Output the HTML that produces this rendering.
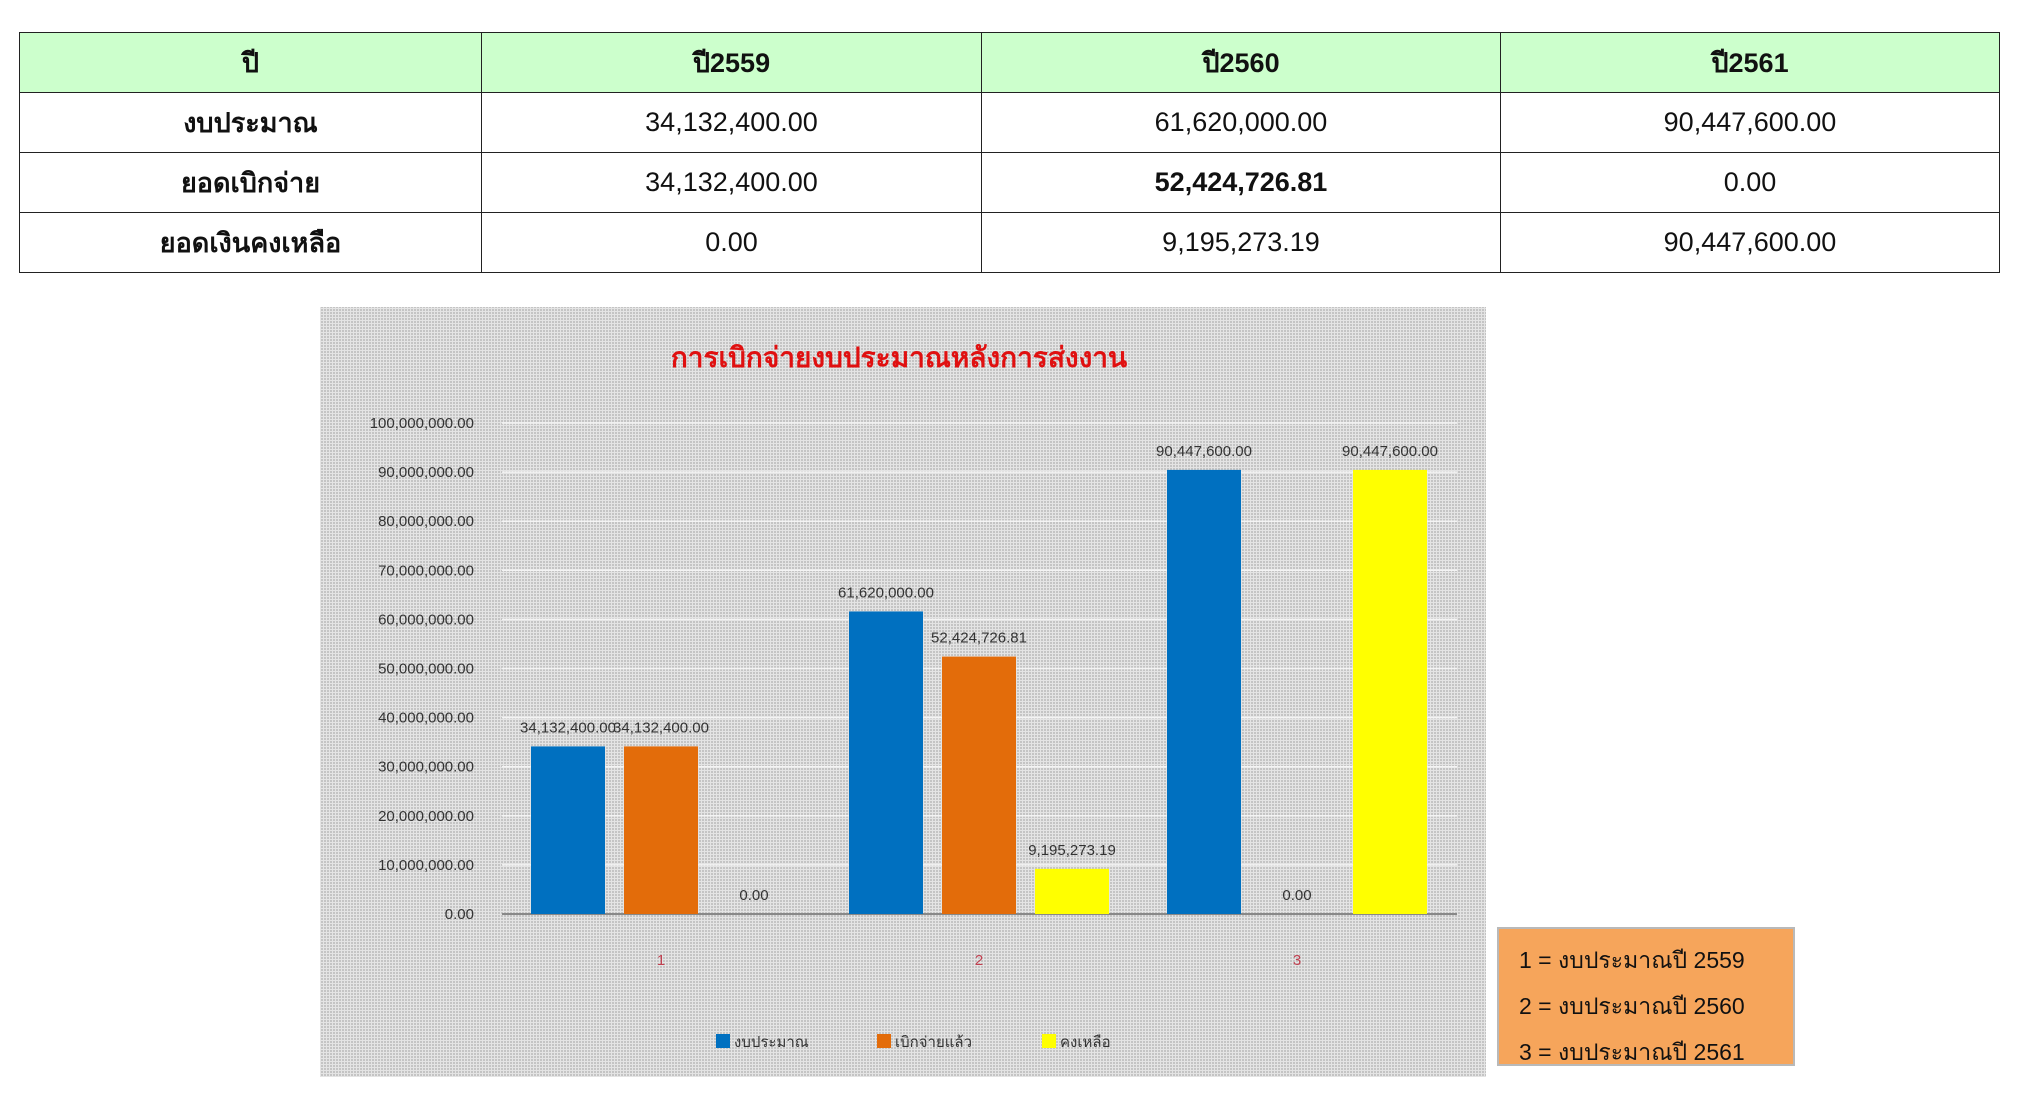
<!DOCTYPE html>
<html><head><meta charset="utf-8"><style>
body{margin:0;width:2019px;height:1114px;background:#fff;position:relative;overflow:hidden;font-family:"Liberation Sans","Noto Sans CJK SC",sans-serif}
table{position:absolute;left:19px;top:32px;width:1980px;border-collapse:collapse;table-layout:fixed}
td{border:1.5px solid #222;height:59px;text-align:center;font-size:27px;padding:0;color:#111}
tr.h td{background:#ccffcc;font-weight:bold}
td.l{font-weight:bold}
#legendbox{position:absolute;left:1497px;top:927px;width:298px;height:139px;background:#f6a55b;border:2px solid #b9b9b9;box-sizing:border-box;font-size:23px;color:#111}
#legendbox div{position:absolute;left:20px}
</style></head><body>
<table>
<colgroup><col style="width:462px"><col style="width:500px"><col style="width:519px"><col style="width:499px"></colgroup>
<tr class="h"><td>ปี</td><td>ปี2559</td><td>ปี2560</td><td>ปี2561</td></tr>
<tr><td class="l">งบประมาณ</td><td>34,132,400.00</td><td>61,620,000.00</td><td>90,447,600.00</td></tr>
<tr><td class="l">ยอดเบิกจ่าย</td><td>34,132,400.00</td><td style="font-weight:bold">52,424,726.81</td><td>0.00</td></tr>
<tr><td class="l">ยอดเงินคงเหลือ</td><td>0.00</td><td>9,195,273.19</td><td>90,447,600.00</td></tr>
</table>
<svg id="chart" style="position:absolute;left:0;top:0" width="2019" height="1114">
<defs><pattern id="dots" width="3" height="3" patternUnits="userSpaceOnUse"><rect width="3" height="3" fill="#e4e4e4"/><rect width="2" height="2" fill="#c4c4c4"/></pattern></defs>
<rect x="320" y="307" width="1166" height="770" fill="url(#dots)"/>
<text x="899" y="367" text-anchor="middle" font-size="28" font-weight="bold" fill="#e01010" font-family="Liberation Sans, Noto Sans CJK SC, sans-serif">การเบิกจ่ายงบประมาณหลังการส่งงาน</text>
<g id="plot"></g>
</svg>
<div id="legendbox">
<div style="top:14px">1 = งบประมาณปี 2559</div>
<div style="top:60px">2 = งบประมาณปี 2560</div>
<div style="top:106px">3 = งบประมาณปี 2561</div>
</div>
<script>
const categories=["1","2","3"];
const seriesNames=["งบประมาณ","เบิกจ่ายแล้ว","คงเหลือ"];
const budget=[34132400,61620000,90447600];
const spent=[34132400,52424726.81,0];
const remaining=[0,9195273.19,90447600];
const yTicks=[0,10000000,20000000,30000000,40000000,50000000,60000000,70000000,80000000,90000000,100000000];
const colors=["#0070c0","#e36c0a","#ffff00"];
const series=[budget,spent,remaining];
const NS="http://www.w3.org/2000/svg";
const g=document.getElementById('plot');
const y0=914,y1=423,xL=502,xR=1457;
function ys(v){return y0-(v/100000000)*(y0-y1);}
function xc(i){return 661+i*318;}
function fmt(v){return v.toLocaleString('en-US',{minimumFractionDigits:2,maximumFractionDigits:2});}
function mk(t,a){const e=document.createElementNS(NS,t);for(const k in a)e.setAttribute(k,a[k]);g.appendChild(e);return e;}
yTicks.forEach(v=>{
 const l=mk('line',{x1:xL,x2:xR,y1:ys(v),y2:ys(v),stroke:v===0?'#888':'#f4f4f4','stroke-width':v===0?2:1.5});
 
 
 const t=mk('text',{x:474,y:ys(v)+5,'text-anchor':'end','font-size':15,fill:'#333'});
 t.textContent=fmt(v);
 
 
});
categories.forEach((c,i)=>{
 series.forEach((s,j)=>{
  const cx=xc(i)+(j-1)*93;
  const v=s[i];
  if(v>0){
   const r=mk('rect',{x:cx-37,y:ys(v),width:74,height:y0-ys(v),fill:colors[j]});
   
   
  }
  const t=mk('text',{x:cx,y:ys(v)-14,'text-anchor':'middle','font-size':15,fill:'#333'});
  t.textContent=fmt(v);
  
  
 });
 const t=mk('text',{x:xc(i),y:965,'text-anchor':'middle','font-size':15,fill:'#c04050'});
 t.textContent=c;
 
 
});
const lx=[716,877,1042];
seriesNames.forEach((n,j)=>{
 const r=mk('rect',{x:lx[j],y:1034,width:14,height:14,fill:colors[j]});
 
 
 const t=mk('text',{x:lx[j]+18,y:1047,'font-size':15,fill:'#333'});
 t.textContent=n;
 
 
});
</script>
</body></html>
